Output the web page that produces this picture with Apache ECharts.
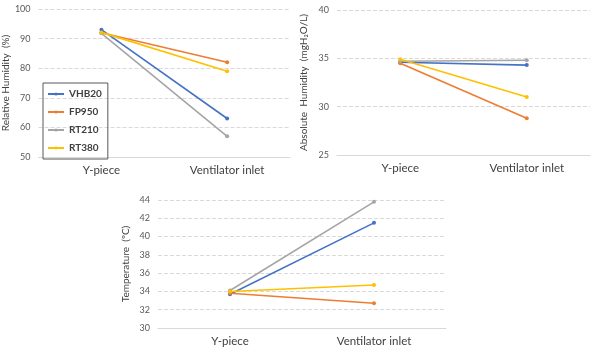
<!DOCTYPE html>
<html>
<head>
<meta charset="utf-8">
<script src="https://cdn.jsdelivr.net/npm/echarts@6/dist/echarts.min.js"></script>
<style>
  html, body { margin: 0; padding: 0; background: #fff; }
  #chart { width: 598px; height: 355px; }
</style>
</head>
<body>
<div id="chart"></div>
<script>
const categories = ['Y-piece', 'Ventilator inlet'];
const seriesNames = ['VHB20', 'FP950', 'RT210', 'RT380'];
const colors = ['#4472C4', '#ED7D31', '#A5A5A5', '#FFC000'];

// relative humidity (%)
const rhVHB20 = [93, 63];
const rhFP950 = [92, 82];
const rhRT210 = [91.8, 57];
const rhRT380 = [92.1, 79];

// absolute humidity (mgH2O/L)
const ahVHB20 = [34.6, 34.3];
const ahFP950 = [34.5, 28.8];
const ahRT210 = [34.7, 34.8];
const ahRT380 = [34.9, 31.0];

// temperature (°C)
const tVHB20 = [33.7, 41.5];
const tFP950 = [33.8, 32.7];
const tRT210 = [34.1, 43.8];
const tRT380 = [34.0, 34.7];

const rhData = [rhVHB20, rhFP950, rhRT210, rhRT380];
const ahData = [ahVHB20, ahFP950, ahRT210, ahRT380];
const tData = [tVHB20, tFP950, tRT210, tRT380];

const font = 'Lato, "Open Sans", sans-serif';
const gridColor = '#D9D9D9';
const textColor = '#595959';

function xAxisFor(gridIndex) {
  return {
    type: 'category',
    gridIndex: gridIndex,
    data: categories,
    boundaryGap: true,
    axisTick: { show: false },
    axisLine: { lineStyle: { color: gridColor } },
    axisLabel: { color: '#404040', fontSize: 11.5, fontFamily: font, margin: 7 },
  };
}

function yAxisFor(gridIndex, min, max, interval, name, nameGap) {
  return {
    type: 'value',
    gridIndex: gridIndex,
    min: min,
    max: max,
    interval: interval,
    name: name,
    nameLocation: 'middle',
    nameGap: nameGap,
    nameTextStyle: { color: '#404040', fontSize: 10, fontFamily: font },
    axisLine: { show: false },
    axisTick: { show: false },
    axisLabel: { color: textColor, fontSize: 9, fontFamily: font, margin: 8 },
    splitLine: { lineStyle: { color: gridColor, type: 'dashed' } },
  };
}

const series = [];
[rhData, ahData, tData].forEach((group, gi) => {
  group.forEach((vals, i) => {
    series.push({
      name: seriesNames[i],
      type: 'line',
      xAxisIndex: gi,
      yAxisIndex: gi,
      data: vals,
      color: colors[i],
      symbol: 'circle',
      symbolSize: 4,
      lineStyle: { width: 1.6 },
      animation: false,
    });
  });
});

const chart = echarts.init(document.getElementById('chart'));
chart.setOption({
  backgroundColor: '#fff',
  animation: false,
  legend: {
    data: seriesNames,
    orient: 'vertical',
    left: 43,
    top: 83,
    padding: [6, 6, 6, 4],
    itemGap: 8,
    itemWidth: 16,
    itemHeight: 4,
    borderColor: '#595959',
    borderWidth: 1,
    textStyle: { color: '#404040', fontSize: 10, fontWeight: 'bold', fontFamily: font },
  },
  grid: [
    { left: 36, right: 308, top: 9, bottom: 198 },
    { left: 337, right: 8, top: 10, bottom: 200 },
    { left: 158, right: 152, top: 200, bottom: 27 },
  ],
  xAxis: [xAxisFor(0), xAxisFor(1), xAxisFor(2)],
  yAxis: [
    yAxisFor(0, 50, 100, 10, 'Relative Humidity  (%)', 20),
    yAxisFor(1, 25, 40, 5, 'Absolute  Humidity  (mgH₂O/L)', 28),
    yAxisFor(2, 30, 44, 2, 'Temperature  (ºC)', 27),
  ],
  series: series,
});
</script>
</body>
</html>
